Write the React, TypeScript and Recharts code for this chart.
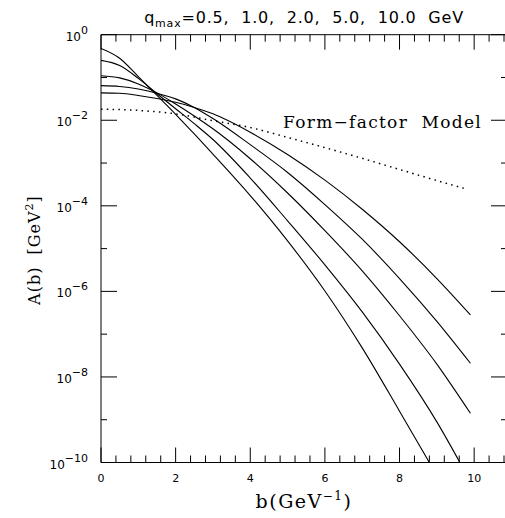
import { LineChart, Line, XAxis, YAxis } from 'recharts';

// b in GeV^-1, curves as log10 A(b)
const B_STEPS = [0, 0.5, 1, 1.5, 2, 2.5, 3, 4, 5, 6, 7, 8, 9, 9.9];
const B_STEPS_Q10 = [0, 0.5, 1, 1.5, 2, 2.5, 3, 4, 5, 6, 7, 8, 9];
const B_FORM = [0, 1, 2, 3, 4, 5, 6, 7, 8, 9, 9.76];

const LOG_Q10 = [-0.32, -0.55, -0.98, -1.42, -1.86, -2.32, -2.79, -3.76, -4.82, -5.99, -7.32, -8.8, -10.3];
const LOG_Q5 = [-0.6, -0.72, -1.02, -1.38, -1.73, -2.08, -2.45, -3.35, -4.35, -5.38, -6.48, -7.7, -9.05, -10.45];
const LOG_Q2 = [-0.96, -1.01, -1.15, -1.36, -1.62, -1.9, -2.2, -2.9, -3.7, -4.58, -5.52, -6.57, -7.7, -8.85];
const LOG_Q1 = [-1.19, -1.21, -1.27, -1.37, -1.5, -1.7, -1.96, -2.57, -3.22, -3.97, -4.78, -5.7, -6.7, -7.68];
const LOG_Q05 = [-1.36, -1.37, -1.42, -1.49, -1.58, -1.7, -1.85, -2.28, -2.8, -3.4, -4.08, -4.84, -5.7, -6.55];
const LOG_FORM = [-1.74, -1.77, -1.85, -2.01, -2.17, -2.4, -2.64, -2.89, -3.15, -3.41, -3.6];

const X_LABELS = [0, 2, 4, 6, 8, 10];
const X_TICKS = [0, 0.4, 0.8, 1.2, 1.6, 2, 2.4, 2.8, 3.2, 3.6, 4, 4.4, 4.8, 5.2, 5.6, 6, 6.4, 6.8, 7.2, 7.6, 8, 8.4, 8.8, 9.2, 9.6, 10, 10.4, 10.8];
const Y_LABEL_EXPS = [0, -2, -4, -6, -8, -10];
const Y_TICK_EXPS = [0, -1, -2, -3, -4, -5, -6, -7, -8, -9, -10];

const toRows = (bs: number[], logs: number[]) => bs.map((b, i) => ({ b, a: Math.pow(10, logs[i]) }));

const curves = [
  { key: 'q10', data: toRows(B_STEPS_Q10, LOG_Q10) },
  { key: 'q5', data: toRows(B_STEPS, LOG_Q5) },
  { key: 'q2', data: toRows(B_STEPS, LOG_Q2) },
  { key: 'q1', data: toRows(B_STEPS, LOG_Q1) },
  { key: 'q05', data: toRows(B_STEPS, LOG_Q05) },
];
const formData = toRows(B_FORM, LOG_FORM);

const X_DOMAIN: [number, number] = [0, 10.88];
const Y_DOMAIN: [number, number] = [1e-10, 1];

// plot frame in page pixels, shared by the chart margins and the tick overlay
const W = 520;
const H = 518;
const PLOT = { left: 101, top: 34.7, right: 507, bottom: 462.5 };
const Y_AXIS_W = 60;
const X_AXIS_H = 30;
const TOP_AXIS_H = 10;
const RIGHT_AXIS_W = 10;

const TICK_FONT = '"DejaVu Sans", sans-serif';
const SERIF = '"DejaVu Serif", serif';

const isMajorX = (v: number) => Math.abs(v / 2 - Math.round(v / 2)) < 1e-6;
const xPx = (v: number) => PLOT.left + ((v - X_DOMAIN[0]) / (X_DOMAIN[1] - X_DOMAIN[0])) * (PLOT.right - PLOT.left);
const yPx = (e: number) =>
  PLOT.bottom - ((e - Math.log10(Y_DOMAIN[0])) / (Math.log10(Y_DOMAIN[1]) - Math.log10(Y_DOMAIN[0]))) * (PLOT.bottom - PLOT.top);

function BottomLabel(props: any) {
  return (
    <text x={props.x} y={Number(props.y) + 19} textAnchor="middle" fontSize={11} fontFamily={TICK_FONT} fill="#000">
      {props.payload.value}
    </text>
  );
}

function LeftLabel(props: any) {
  const e = Math.round(Math.log10(props.payload.value));
  return (
    <text x={Number(props.x) - 13} y={Number(props.y) + 6} textAnchor="end" fontSize={12} fontFamily={TICK_FONT} fill="#000">
      <tspan>10</tspan>
      <tspan dy={-7} fontSize={11}>{e === 0 ? '0' : `\u2212${-e}`}</tspan>
    </text>
  );
}

export default function App() {
  return (
    <div style={{ position: 'fixed', left: 0, top: 0, width: 505, height: 518, overflow: 'hidden', background: '#fff' }}>
      <LineChart
        width={W}
        height={H}
        margin={{
          top: PLOT.top - TOP_AXIS_H,
          right: W - PLOT.right - RIGHT_AXIS_W,
          bottom: H - PLOT.bottom - X_AXIS_H,
          left: PLOT.left - Y_AXIS_W,
        }}
      >
        <XAxis
          dataKey="b"
          type="number"
          domain={X_DOMAIN}
          ticks={X_LABELS}
          interval={0}
          height={X_AXIS_H}
          tickSize={0}
          tickMargin={0}
          tickLine={false}
          tick={BottomLabel}
          axisLine={{ stroke: '#000' }}
          allowDataOverflow
        />
        <XAxis
          xAxisId="top"
          orientation="top"
          dataKey="b"
          type="number"
          domain={X_DOMAIN}
          ticks={X_LABELS}
          height={TOP_AXIS_H}
          tick={false}
          tickLine={false}
          axisLine={{ stroke: '#000' }}
          allowDataOverflow
        />
        <YAxis
          type="number"
          scale="log"
          domain={Y_DOMAIN}
          ticks={Y_LABEL_EXPS.map(e => Math.pow(10, e))}
          interval={0}
          width={Y_AXIS_W}
          tickSize={0}
          tickMargin={0}
          tickLine={false}
          tick={LeftLabel}
          axisLine={{ stroke: '#000' }}
          allowDataOverflow
        />
        <YAxis
          yAxisId="right"
          orientation="right"
          type="number"
          scale="log"
          domain={Y_DOMAIN}
          width={RIGHT_AXIS_W}
          tick={false}
          tickLine={false}
          axisLine={{ stroke: '#000' }}
          allowDataOverflow
        />
        {curves.map(c => (
          <Line
            key={c.key}
            data={c.data}
            dataKey="a"
            type="monotone"
            stroke="#000"
            strokeWidth={1.1}
            dot={false}
            activeDot={false}
            isAnimationActive={false}
          />
        ))}
        <Line
          data={formData}
          dataKey="a"
          type="monotone"
          stroke="#000"
          strokeWidth={1.5}
          strokeDasharray="1.5 4.3"
          dot={false}
          activeDot={false}
          isAnimationActive={false}
        />
      </LineChart>
      <svg width={505} height={518} style={{ position: 'absolute', left: 0, top: 0, pointerEvents: 'none' }}>
        {/* inward tick marks on all four sides of the frame */}
        <g stroke="#000" strokeWidth={1}>
          {X_TICKS.map(v => {
            const x = xPx(v);
            const len = isMajorX(v) ? 15 : 7;
            return (
              <g key={`x${v}`}>
                <line x1={x} y1={PLOT.bottom} x2={x} y2={PLOT.bottom - len} />
                <line x1={x} y1={PLOT.top} x2={x} y2={PLOT.top + len} />
              </g>
            );
          })}
          {Y_TICK_EXPS.map(e => {
            const y = yPx(e);
            const len = e % 2 === 0 ? 16 : 6;
            return (
              <g key={`y${e}`}>
                <line x1={PLOT.left} y1={y} x2={PLOT.left + len} y2={y} />
                <line x1={PLOT.right} y1={y} x2={PLOT.right - len} y2={y} />
              </g>
            );
          })}
        </g>
        <text x={304} y={23} textAnchor="middle" fontSize={16} letterSpacing={0.8} fontFamily={TICK_FONT} style={{ whiteSpace: 'pre' }}>
          <tspan>q</tspan>
          <tspan dy={4} fontSize={11}>max</tspan>
          <tspan dy={-4}>=0.5,  1.0,  2.0,  5.0,  10.0  GeV</tspan>
        </text>
        <text x={482} y={128} textAnchor="end" fontSize={17} letterSpacing={1.3} fontFamily={SERIF} style={{ whiteSpace: 'pre' }}>
          {'Form\u2212factor  Model'}
        </text>
        <text x={304} y={508} textAnchor="middle" fontSize={19} letterSpacing={1.5} fontFamily={SERIF}>
          <tspan>b(GeV</tspan>
          <tspan dy={-8} fontSize={12}>{'\u22121'}</tspan>
          <tspan dy={8}>)</tspan>
        </text>
        <text
          x={40}
          y={250}
          transform="rotate(-90 40 250)"
          textAnchor="middle"
          fontSize={16}
          letterSpacing={1}
          fontFamily={SERIF}
          style={{ whiteSpace: 'pre' }}
        >
          <tspan>A(b)  [GeV</tspan>
          <tspan dy={-7} fontSize={11}>2</tspan>
          <tspan dy={7}>]</tspan>
        </text>
      </svg>
    </div>
  );
}
